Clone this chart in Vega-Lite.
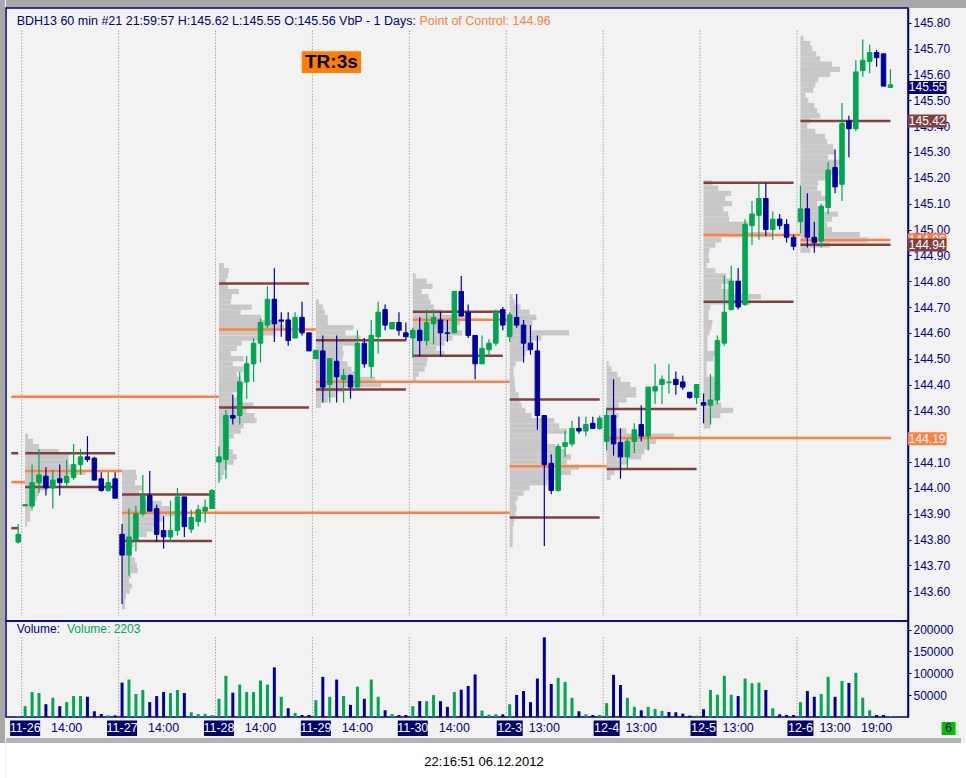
{
"$schema": "https://vega.github.io/schema/vega-lite/v6.json",
"background": "#f2f2f2",
"padding": 0,
"spacing": 0,
"config": {
"view": {"stroke": null},
"font": "Liberation Sans",
"axis": {"zindex": 0, "grid": false, "domainColor": "#000080", "domainWidth": 1.5, "tickColor": "#000080", "tickSize": 3, "labelColor": "#000080", "labelFont": "Liberation Sans", "labelFontSize": 12, "labelPadding": 2, "labelBound": false, "labelFlush": false, "labelOverlap": false}
},
"datasets": {
"seps": [{"sep":0.5},{"sep":14.5},{"sep":28.5},{"sep":42.5},{"sep":56.5},{"sep":70.5},{"sep":84.5},{"sep":98.5},{"sep":112.5}],
"bars": [
{"i":0,"o":143.79,"h":143.86,"l":143.785,"c":143.82,"v":2000},
{"i":1,"o":143.93,"h":143.937,"l":143.93,"c":143.935,"v":24700},
{"i":2,"o":143.93,"h":144.09,"l":143.92,"c":144.02,"v":57100},
{"i":3,"o":144.02,"h":144.15,"l":143.98,"c":144.05,"v":54800},
{"i":4,"o":144.045,"h":144.08,"l":143.97,"c":144.0,"v":29300},
{"i":5,"o":144.0,"h":144.07,"l":143.92,"c":144.03,"v":44000},
{"i":6,"o":144.035,"h":144.09,"l":143.97,"c":144.02,"v":24700},
{"i":7,"o":144.02,"h":144.11,"l":144.0,"c":144.045,"v":34000},
{"i":8,"o":144.04,"h":144.17,"l":144.03,"c":144.09,"v":47900},
{"i":9,"o":144.09,"h":144.15,"l":144.05,"c":144.12,"v":47900},
{"i":10,"o":144.12,"h":144.2,"l":144.1,"c":144.11,"v":46300},
{"i":11,"o":144.115,"h":144.12,"l":144.03,"c":144.03,"v":13100},
{"i":12,"o":144.035,"h":144.06,"l":143.985,"c":143.99,"v":6900},
{"i":13,"o":143.99,"h":144.06,"l":143.985,"c":144.02,"v":3900},
{"i":14,"o":144.035,"h":144.06,"l":143.96,"c":143.96,"v":3900},
{"i":15,"o":143.82,"h":143.86,"l":143.55,"c":143.74,"v":78700},
{"i":16,"o":143.74,"h":143.92,"l":143.66,"c":143.81,"v":85700},
{"i":17,"o":143.8,"h":143.93,"l":143.755,"c":143.9,"v":52500},
{"i":18,"o":143.9,"h":144.05,"l":143.89,"c":143.97,"v":61800},
{"i":19,"o":143.97,"h":144.065,"l":143.91,"c":143.91,"v":34000},
{"i":20,"o":143.92,"h":143.935,"l":143.79,"c":143.82,"v":47900},
{"i":21,"o":143.835,"h":143.89,"l":143.765,"c":143.81,"v":57100},
{"i":22,"o":143.81,"h":143.95,"l":143.79,"c":143.835,"v":54800},
{"i":23,"o":143.835,"h":144.0,"l":143.815,"c":143.965,"v":61800},
{"i":24,"o":143.965,"h":143.965,"l":143.81,"c":143.85,"v":54800},
{"i":25,"o":143.84,"h":143.915,"l":143.825,"c":143.885,"v":10800},
{"i":26,"o":143.87,"h":143.935,"l":143.85,"c":143.915,"v":6900},
{"i":27,"o":143.91,"h":143.955,"l":143.865,"c":143.925,"v":6900},
{"i":28,"o":143.92,"h":143.995,"l":143.92,"c":143.99,"v":4600},
{"i":29,"o":144.1,"h":144.16,"l":144.02,"c":144.12,"v":41700},
{"i":30,"o":144.11,"h":144.3,"l":144.035,"c":144.28,"v":94200},
{"i":31,"o":144.28,"h":144.36,"l":144.245,"c":144.27,"v":55600},
{"i":32,"o":144.28,"h":144.45,"l":144.245,"c":144.41,"v":74100},
{"i":33,"o":144.41,"h":144.51,"l":144.345,"c":144.48,"v":57100},
{"i":34,"o":144.48,"h":144.58,"l":144.41,"c":144.56,"v":57100},
{"i":35,"o":144.56,"h":144.655,"l":144.485,"c":144.64,"v":83400},
{"i":36,"o":144.63,"h":144.78,"l":144.62,"c":144.73,"v":74100},
{"i":37,"o":144.73,"h":144.85,"l":144.565,"c":144.635,"v":113500},
{"i":38,"o":144.65,"h":144.68,"l":144.585,"c":144.645,"v":46300},
{"i":39,"o":144.65,"h":144.68,"l":144.55,"c":144.57,"v":20000},
{"i":40,"o":144.58,"h":144.68,"l":144.58,"c":144.66,"v":9300},
{"i":41,"o":144.66,"h":144.72,"l":144.59,"c":144.6,"v":4600},
{"i":42,"o":144.6,"h":144.6,"l":144.53,"c":144.53,"v":4600},
{"i":43,"o":144.5,"h":144.535,"l":144.5,"c":144.532,"v":38600},
{"i":44,"o":144.53,"h":144.59,"l":144.33,"c":144.39,"v":91900},
{"i":45,"o":144.4,"h":144.5,"l":144.33,"c":144.5,"v":46300},
{"i":46,"o":144.49,"h":144.59,"l":144.33,"c":144.43,"v":85700},
{"i":47,"o":144.42,"h":144.46,"l":144.33,"c":144.435,"v":47900},
{"i":48,"o":144.435,"h":144.44,"l":144.345,"c":144.39,"v":27800},
{"i":49,"o":144.39,"h":144.61,"l":144.39,"c":144.56,"v":69500},
{"i":50,"o":144.56,"h":144.58,"l":144.465,"c":144.48,"v":41700},
{"i":51,"o":144.47,"h":144.65,"l":144.425,"c":144.59,"v":85700},
{"i":52,"o":144.585,"h":144.72,"l":144.52,"c":144.68,"v":46300},
{"i":53,"o":144.69,"h":144.71,"l":144.61,"c":144.63,"v":15400},
{"i":54,"o":144.615,"h":144.64,"l":144.615,"c":144.64,"v":6900},
{"i":55,"o":144.64,"h":144.68,"l":144.59,"c":144.61,"v":4600},
{"i":56,"o":144.6,"h":144.64,"l":144.57,"c":144.585,"v":4600},
{"i":57,"o":144.58,"h":144.62,"l":144.505,"c":144.61,"v":24700},
{"i":58,"o":144.61,"h":144.66,"l":144.51,"c":144.57,"v":36300},
{"i":59,"o":144.57,"h":144.69,"l":144.55,"c":144.64,"v":36300},
{"i":60,"o":144.635,"h":144.69,"l":144.555,"c":144.66,"v":50200},
{"i":61,"o":144.65,"h":144.68,"l":144.51,"c":144.6,"v":36300},
{"i":62,"o":144.6,"h":144.65,"l":144.565,"c":144.598,"v":23200},
{"i":63,"o":144.6,"h":144.76,"l":144.6,"c":144.76,"v":57100},
{"i":64,"o":144.76,"h":144.82,"l":144.665,"c":144.665,"v":62500},
{"i":65,"o":144.68,"h":144.71,"l":144.58,"c":144.59,"v":71000},
{"i":66,"o":144.59,"h":144.59,"l":144.42,"c":144.48,"v":97300},
{"i":67,"o":144.48,"h":144.59,"l":144.48,"c":144.54,"v":14700},
{"i":68,"o":144.535,"h":144.575,"l":144.51,"c":144.56,"v":5400},
{"i":69,"o":144.56,"h":144.69,"l":144.55,"c":144.68,"v":6200},
{"i":70,"o":144.69,"h":144.7,"l":144.61,"c":144.63,"v":6200},
{"i":71,"o":144.585,"h":144.68,"l":144.565,"c":144.67,"v":29300},
{"i":72,"o":144.66,"h":144.75,"l":144.62,"c":144.63,"v":50200},
{"i":73,"o":144.63,"h":144.65,"l":144.485,"c":144.56,"v":59400},
{"i":74,"o":144.56,"h":144.63,"l":144.515,"c":144.535,"v":34000},
{"i":75,"o":144.53,"h":144.59,"l":144.225,"c":144.28,"v":88000},
{"i":76,"o":144.28,"h":144.28,"l":143.775,"c":144.09,"v":182200},
{"i":77,"o":144.095,"h":144.13,"l":143.975,"c":143.99,"v":75700},
{"i":78,"o":143.99,"h":144.17,"l":143.985,"c":144.16,"v":89600},
{"i":79,"o":144.16,"h":144.22,"l":144.12,"c":144.175,"v":80300},
{"i":80,"o":144.17,"h":144.26,"l":144.16,"c":144.23,"v":44000},
{"i":81,"o":144.23,"h":144.275,"l":144.21,"c":144.22,"v":13100},
{"i":82,"o":144.22,"h":144.275,"l":144.2,"c":144.245,"v":6200},
{"i":83,"o":144.25,"h":144.275,"l":144.23,"c":144.23,"v":4600},
{"i":84,"o":144.23,"h":144.28,"l":144.225,"c":144.27,"v":4600},
{"i":85,"o":144.18,"h":144.31,"l":144.145,"c":144.28,"v":31700},
{"i":86,"o":144.28,"h":144.42,"l":144.125,"c":144.17,"v":96500},
{"i":87,"o":144.175,"h":144.23,"l":144.035,"c":144.12,"v":73300},
{"i":88,"o":144.12,"h":144.19,"l":144.075,"c":144.18,"v":44000},
{"i":89,"o":144.18,"h":144.25,"l":144.135,"c":144.225,"v":23200},
{"i":90,"o":144.245,"h":144.32,"l":144.18,"c":144.2,"v":15400},
{"i":91,"o":144.2,"h":144.39,"l":144.145,"c":144.39,"v":23200},
{"i":92,"o":144.375,"h":144.48,"l":144.325,"c":144.392,"v":18500},
{"i":93,"o":144.4,"h":144.435,"l":144.325,"c":144.42,"v":13900},
{"i":94,"o":144.407,"h":144.48,"l":144.365,"c":144.41,"v":11600},
{"i":95,"o":144.42,"h":144.45,"l":144.36,"c":144.4,"v":10800},
{"i":96,"o":144.41,"h":144.435,"l":144.38,"c":144.39,"v":7700},
{"i":97,"o":144.37,"h":144.37,"l":144.345,"c":144.35,"v":3100},
{"i":98,"o":144.35,"h":144.4,"l":144.325,"c":144.4,"v":3100},
{"i":99,"o":144.33,"h":144.365,"l":144.25,"c":144.32,"v":17800},
{"i":100,"o":144.32,"h":144.44,"l":144.245,"c":144.34,"v":61800},
{"i":101,"o":144.34,"h":144.59,"l":144.325,"c":144.57,"v":51000},
{"i":102,"o":144.56,"h":144.82,"l":144.55,"c":144.68,"v":94200},
{"i":103,"o":144.69,"h":144.86,"l":144.69,"c":144.8,"v":51000},
{"i":104,"o":144.8,"h":144.85,"l":144.69,"c":144.7,"v":47900},
{"i":105,"o":144.71,"h":145.04,"l":144.705,"c":145.02,"v":88000},
{"i":106,"o":145.015,"h":145.11,"l":144.94,"c":145.06,"v":77200},
{"i":107,"o":145.055,"h":145.18,"l":144.96,"c":145.12,"v":78700},
{"i":108,"o":145.12,"h":145.18,"l":144.975,"c":145.0,"v":61800},
{"i":109,"o":145.0,"h":145.07,"l":144.96,"c":145.04,"v":20000},
{"i":110,"o":145.04,"h":145.06,"l":145.0,"c":145.015,"v":6200},
{"i":111,"o":145.02,"h":145.04,"l":144.95,"c":144.97,"v":4600},
{"i":112,"o":144.97,"h":144.98,"l":144.92,"c":144.935,"v":4600},
{"i":113,"o":145.03,"h":145.17,"l":144.985,"c":145.08,"v":34000},
{"i":114,"o":145.08,"h":145.14,"l":144.93,"c":144.97,"v":59400},
{"i":115,"o":144.97,"h":145.03,"l":144.91,"c":144.95,"v":46300},
{"i":116,"o":144.955,"h":145.1,"l":144.93,"c":145.09,"v":52500},
{"i":117,"o":145.085,"h":145.26,"l":145.06,"c":145.23,"v":91900},
{"i":118,"o":145.24,"h":145.31,"l":145.14,"c":145.165,"v":46300},
{"i":119,"o":145.175,"h":145.49,"l":145.11,"c":145.41,"v":82600},
{"i":120,"o":145.42,"h":145.44,"l":145.28,"c":145.39,"v":78000},
{"i":121,"o":145.39,"h":145.655,"l":145.38,"c":145.61,"v":101100},
{"i":122,"o":145.615,"h":145.735,"l":145.59,"c":145.655,"v":44000},
{"i":123,"o":145.65,"h":145.715,"l":145.605,"c":145.685,"v":15400},
{"i":124,"o":145.685,"h":145.695,"l":145.63,"c":145.665,"v":4600},
{"i":125,"o":145.68,"h":145.68,"l":145.555,"c":145.555,"v":4600},
{"i":126,"o":145.55,"h":145.62,"l":145.55,"c":145.56,"v":2203}
],
"profile": [
{"s":1,"p":144.2,"w":3},{"s":1,"p":144.18,"w":8},{"s":1,"p":144.16,"w":14},{"s":1,"p":144.14,"w":34},{"s":1,"p":144.12,"w":44},{"s":1,"p":144.1,"w":44},{"s":1,"p":144.08,"w":46},{"s":1,"p":144.06,"w":61},{"s":1,"p":144.04,"w":42},{"s":1,"p":144.02,"w":31},{"s":1,"p":144.0,"w":23},{"s":1,"p":143.98,"w":14},{"s":1,"p":143.96,"w":12},{"s":1,"p":143.94,"w":9},{"s":1,"p":143.92,"w":8},{"s":1,"p":143.9,"w":5},{"s":1,"p":143.88,"w":5},{"s":1,"p":143.86,"w":2},
{"s":15,"p":144.06,"w":14},{"s":15,"p":144.04,"w":15},{"s":15,"p":144.02,"w":13},{"s":15,"p":144.0,"w":20},{"s":15,"p":143.98,"w":17},{"s":15,"p":143.96,"w":20},{"s":15,"p":143.94,"w":40},{"s":15,"p":143.92,"w":48},{"s":15,"p":143.9,"w":60},{"s":15,"p":143.88,"w":42},{"s":15,"p":143.86,"w":35},{"s":15,"p":143.84,"w":31},{"s":15,"p":143.82,"w":25},{"s":15,"p":143.8,"w":16},{"s":15,"p":143.78,"w":12},{"s":15,"p":143.76,"w":9},{"s":15,"p":143.74,"w":10},{"s":15,"p":143.72,"w":13},{"s":15,"p":143.7,"w":15},{"s":15,"p":143.68,"w":16},{"s":15,"p":143.66,"w":9},{"s":15,"p":143.64,"w":7},{"s":15,"p":143.62,"w":10},{"s":15,"p":143.6,"w":8},{"s":15,"p":143.58,"w":4},{"s":15,"p":143.56,"w":3},{"s":15,"p":143.54,"w":3},
{"s":29,"p":144.86,"w":5},{"s":29,"p":144.84,"w":10},{"s":29,"p":144.82,"w":9},{"s":29,"p":144.8,"w":7},{"s":29,"p":144.78,"w":9},{"s":29,"p":144.76,"w":20},{"s":29,"p":144.74,"w":13},{"s":29,"p":144.72,"w":12},{"s":29,"p":144.7,"w":33},{"s":29,"p":144.68,"w":22},{"s":29,"p":144.66,"w":43},{"s":29,"p":144.64,"w":62},{"s":29,"p":144.62,"w":66},{"s":29,"p":144.6,"w":58},{"s":29,"p":144.58,"w":44},{"s":29,"p":144.56,"w":23},{"s":29,"p":144.54,"w":18},{"s":29,"p":144.52,"w":12},{"s":29,"p":144.5,"w":25},{"s":29,"p":144.48,"w":14},{"s":29,"p":144.46,"w":25},{"s":29,"p":144.44,"w":18},{"s":29,"p":144.42,"w":22},{"s":29,"p":144.4,"w":25},{"s":29,"p":144.38,"w":24},{"s":29,"p":144.36,"w":14},{"s":29,"p":144.34,"w":18},{"s":29,"p":144.32,"w":35},{"s":29,"p":144.3,"w":28},{"s":29,"p":144.28,"w":36},{"s":29,"p":144.26,"w":38},{"s":29,"p":144.24,"w":25},{"s":29,"p":144.22,"w":22},{"s":29,"p":144.2,"w":15},{"s":29,"p":144.18,"w":10},{"s":29,"p":144.16,"w":10},{"s":29,"p":144.14,"w":14},{"s":29,"p":144.12,"w":18},{"s":29,"p":144.1,"w":15},{"s":29,"p":144.08,"w":8},{"s":29,"p":144.06,"w":5},{"s":29,"p":144.04,"w":3},
{"s":43,"p":144.72,"w":3},{"s":43,"p":144.7,"w":7},{"s":43,"p":144.68,"w":9},{"s":43,"p":144.66,"w":12},{"s":43,"p":144.64,"w":12},{"s":43,"p":144.62,"w":38},{"s":43,"p":144.6,"w":30},{"s":43,"p":144.58,"w":45},{"s":43,"p":144.56,"w":40},{"s":43,"p":144.54,"w":27},{"s":43,"p":144.52,"w":28},{"s":43,"p":144.5,"w":27},{"s":43,"p":144.48,"w":32},{"s":43,"p":144.46,"w":36},{"s":43,"p":144.44,"w":40},{"s":43,"p":144.42,"w":60},{"s":43,"p":144.4,"w":66},{"s":43,"p":144.38,"w":28},{"s":43,"p":144.36,"w":20},{"s":43,"p":144.34,"w":12},{"s":43,"p":144.32,"w":5},
{"s":57,"p":144.82,"w":3},{"s":57,"p":144.8,"w":14},{"s":57,"p":144.78,"w":20},{"s":57,"p":144.76,"w":9},{"s":57,"p":144.74,"w":16},{"s":57,"p":144.72,"w":18},{"s":57,"p":144.7,"w":21},{"s":57,"p":144.68,"w":30},{"s":57,"p":144.66,"w":55},{"s":57,"p":144.64,"w":48},{"s":57,"p":144.62,"w":42},{"s":57,"p":144.6,"w":50},{"s":57,"p":144.58,"w":40},{"s":57,"p":144.56,"w":32},{"s":57,"p":144.54,"w":24},{"s":57,"p":144.52,"w":32},{"s":57,"p":144.5,"w":15},{"s":57,"p":144.48,"w":14},{"s":57,"p":144.46,"w":12},{"s":57,"p":144.44,"w":6},{"s":57,"p":144.42,"w":3},
{"s":71,"p":144.74,"w":3},{"s":71,"p":144.72,"w":5},{"s":71,"p":144.7,"w":11},{"s":71,"p":144.68,"w":20},{"s":71,"p":144.66,"w":27},{"s":71,"p":144.64,"w":23},{"s":71,"p":144.62,"w":22},{"s":71,"p":144.6,"w":60},{"s":71,"p":144.58,"w":32},{"s":71,"p":144.56,"w":24},{"s":71,"p":144.54,"w":20},{"s":71,"p":144.52,"w":16},{"s":71,"p":144.5,"w":13},{"s":71,"p":144.48,"w":6},{"s":71,"p":144.46,"w":4},{"s":71,"p":144.44,"w":4},{"s":71,"p":144.42,"w":5},{"s":71,"p":144.4,"w":5},{"s":71,"p":144.38,"w":6},{"s":71,"p":144.36,"w":9},{"s":71,"p":144.34,"w":10},{"s":71,"p":144.32,"w":12},{"s":71,"p":144.3,"w":16},{"s":71,"p":144.28,"w":22},{"s":71,"p":144.26,"w":45},{"s":71,"p":144.24,"w":50},{"s":71,"p":144.22,"w":58},{"s":71,"p":144.2,"w":35},{"s":71,"p":144.18,"w":38},{"s":71,"p":144.16,"w":46},{"s":71,"p":144.14,"w":56},{"s":71,"p":144.12,"w":62},{"s":71,"p":144.1,"w":58},{"s":71,"p":144.08,"w":70},{"s":71,"p":144.06,"w":62},{"s":71,"p":144.04,"w":46},{"s":71,"p":144.02,"w":38},{"s":71,"p":144.0,"w":20},{"s":71,"p":143.98,"w":14},{"s":71,"p":143.96,"w":8},{"s":71,"p":143.94,"w":6},{"s":71,"p":143.92,"w":7},{"s":71,"p":143.9,"w":6},{"s":71,"p":143.88,"w":5},{"s":71,"p":143.86,"w":4},{"s":71,"p":143.84,"w":3},{"s":71,"p":143.82,"w":3},{"s":71,"p":143.8,"w":3},{"s":71,"p":143.78,"w":3},
{"s":85,"p":144.48,"w":2},{"s":85,"p":144.46,"w":5},{"s":85,"p":144.44,"w":11},{"s":85,"p":144.42,"w":14},{"s":85,"p":144.4,"w":24},{"s":85,"p":144.38,"w":30},{"s":85,"p":144.36,"w":30},{"s":85,"p":144.34,"w":20},{"s":85,"p":144.32,"w":12},{"s":85,"p":144.3,"w":9},{"s":85,"p":144.28,"w":12},{"s":85,"p":144.26,"w":7},{"s":85,"p":144.24,"w":5},{"s":85,"p":144.22,"w":20},{"s":85,"p":144.2,"w":68},{"s":85,"p":144.18,"w":50},{"s":85,"p":144.16,"w":44},{"s":85,"p":144.14,"w":38},{"s":85,"p":144.12,"w":35},{"s":85,"p":144.1,"w":22},{"s":85,"p":144.08,"w":15},{"s":85,"p":144.06,"w":8},{"s":85,"p":144.04,"w":4},
{"s":99,"p":145.18,"w":9},{"s":99,"p":145.16,"w":15},{"s":99,"p":145.14,"w":28},{"s":99,"p":145.12,"w":22},{"s":99,"p":145.1,"w":29},{"s":99,"p":145.08,"w":20},{"s":99,"p":145.06,"w":25},{"s":99,"p":145.04,"w":26},{"s":99,"p":145.02,"w":45},{"s":99,"p":145.0,"w":40},{"s":99,"p":144.98,"w":69},{"s":99,"p":144.96,"w":18},{"s":99,"p":144.94,"w":12},{"s":99,"p":144.92,"w":6},{"s":99,"p":144.9,"w":5},{"s":99,"p":144.88,"w":6},{"s":99,"p":144.86,"w":3},{"s":99,"p":144.84,"w":12},{"s":99,"p":144.82,"w":23},{"s":99,"p":144.8,"w":28},{"s":99,"p":144.78,"w":18},{"s":99,"p":144.76,"w":26},{"s":99,"p":144.74,"w":58},{"s":99,"p":144.72,"w":48},{"s":99,"p":144.7,"w":7},{"s":99,"p":144.68,"w":5},{"s":99,"p":144.66,"w":5},{"s":99,"p":144.64,"w":9},{"s":99,"p":144.62,"w":8},{"s":99,"p":144.6,"w":6},{"s":99,"p":144.58,"w":4},{"s":99,"p":144.56,"w":4},{"s":99,"p":144.54,"w":4},{"s":99,"p":144.52,"w":12},{"s":99,"p":144.5,"w":10},{"s":99,"p":144.48,"w":3},{"s":99,"p":144.46,"w":3},{"s":99,"p":144.44,"w":3},{"s":99,"p":144.42,"w":11},{"s":99,"p":144.4,"w":17},{"s":99,"p":144.38,"w":17},{"s":99,"p":144.36,"w":13},{"s":99,"p":144.34,"w":13},{"s":99,"p":144.32,"w":18},{"s":99,"p":144.3,"w":30},{"s":99,"p":144.28,"w":17},{"s":99,"p":144.26,"w":8},{"s":99,"p":144.24,"w":7},
{"s":113,"p":145.74,"w":3},{"s":113,"p":145.72,"w":10},{"s":113,"p":145.7,"w":12},{"s":113,"p":145.68,"w":16},{"s":113,"p":145.66,"w":20},{"s":113,"p":145.64,"w":32},{"s":113,"p":145.62,"w":40},{"s":113,"p":145.6,"w":30},{"s":113,"p":145.58,"w":18},{"s":113,"p":145.56,"w":15},{"s":113,"p":145.54,"w":13},{"s":113,"p":145.52,"w":5},{"s":113,"p":145.5,"w":8},{"s":113,"p":145.48,"w":14},{"s":113,"p":145.46,"w":17},{"s":113,"p":145.44,"w":20},{"s":113,"p":145.42,"w":10},{"s":113,"p":145.4,"w":7},{"s":113,"p":145.38,"w":15},{"s":113,"p":145.36,"w":25},{"s":113,"p":145.34,"w":27},{"s":113,"p":145.32,"w":33},{"s":113,"p":145.3,"w":35},{"s":113,"p":145.28,"w":28},{"s":113,"p":145.26,"w":42},{"s":113,"p":145.24,"w":38},{"s":113,"p":145.22,"w":45},{"s":113,"p":145.2,"w":27},{"s":113,"p":145.18,"w":18},{"s":113,"p":145.16,"w":17},{"s":113,"p":145.14,"w":21},{"s":113,"p":145.12,"w":28},{"s":113,"p":145.1,"w":17},{"s":113,"p":145.08,"w":20},{"s":113,"p":145.06,"w":38},{"s":113,"p":145.04,"w":32},{"s":113,"p":145.02,"w":27},{"s":113,"p":145.0,"w":32},{"s":113,"p":144.98,"w":60},{"s":113,"p":144.96,"w":68},{"s":113,"p":144.94,"w":30},{"s":113,"p":144.92,"w":10}
],
"levels": [
{"from":-1.0,"to":29,"p":144.353,"k":"poc"},
{"from":-1.0,"to":1,"p":144.022,"k":"poc"},
{"from":-1.0,"to":0,"p":144.134,"k":"va"},
{"from":-1.0,"to":0,"p":143.844,"k":"va"},
{"from":1,"to":14,"p":144.134,"k":"va"},
{"from":1,"to":14,"p":144.003,"k":"va"},
{"from":1,"to":15,"p":144.065,"k":"poc"},
{"from":15,"to":28,"p":143.974,"k":"va"},
{"from":15,"to":28,"p":143.794,"k":"va"},
{"from":15,"to":71,"p":143.904,"k":"poc"},
{"from":29,"to":42,"p":144.791,"k":"va"},
{"from":29,"to":43,"p":144.613,"k":"poc"},
{"from":29,"to":42,"p":144.311,"k":"va"},
{"from":43,"to":56,"p":144.571,"k":"va"},
{"from":43,"to":71,"p":144.411,"k":"poc"},
{"from":43,"to":56,"p":144.381,"k":"va"},
{"from":57,"to":70,"p":144.682,"k":"va"},
{"from":57,"to":71,"p":144.651,"k":"poc"},
{"from":57,"to":70,"p":144.511,"k":"va"},
{"from":71,"to":84,"p":144.342,"k":"va"},
{"from":71,"to":85,"p":144.084,"k":"poc"},
{"from":71,"to":84,"p":143.885,"k":"va"},
{"from":85,"to":98,"p":144.305,"k":"va"},
{"from":85,"to":126.1,"p":144.193,"k":"poc"},
{"from":85,"to":98,"p":144.073,"k":"va"},
{"from":99,"to":112,"p":145.181,"k":"va"},
{"from":99,"to":113,"p":144.979,"k":"poc"},
{"from":99,"to":112,"p":144.72,"k":"va"},
{"from":113,"to":126,"p":145.42,"k":"va"},
{"from":113,"to":126,"p":144.959,"k":"poc"},
{"from":113,"to":126,"p":144.941,"k":"va"}
],
"marks": [
{"p":144.96,"t":"144.96","k":"poc"},
{"p":144.19,"t":"144.19","k":"poc"},
{"p":144.94,"t":"144.94","k":"va"},
{"p":145.42,"t":"145.42","k":"va"},
{"p":145.55,"t":"145.55","k":"last"}
],
"ticks": [
{"i":1,"t":"11-26","k":"date"},{"i":7,"t":"14:00","k":"time"},{"i":15,"t":"11-27","k":"date"},{"i":21,"t":"14:00","k":"time"},{"i":29,"t":"11-28","k":"date"},{"i":35,"t":"14:00","k":"time"},{"i":43,"t":"11-29","k":"date"},{"i":49,"t":"14:00","k":"time"},{"i":57,"t":"11-30","k":"date"},{"i":63,"t":"14:00","k":"time"},{"i":71,"t":"12-3","k":"date"},{"i":76,"t":"13:00","k":"time"},{"i":85,"t":"12-4","k":"date"},{"i":90,"t":"13:00","k":"time"},{"i":99,"t":"12-5","k":"date"},{"i":104,"t":"13:00","k":"time"},{"i":113,"t":"12-6","k":"date"},{"i":118,"t":"13:00","k":"time"},{"i":124,"t":"19:00","k":"time"}
]
},
"hconcat": [
{
"spacing": 0,
"bounds": "flush",
"vconcat": [
{"width": 5, "height": 743, "view": {"fill": "#a8a8a8", "stroke": null}, "data": {"values": []}, "mark": "point"},
{"width": 5, "height": 35, "view": {"fill": "white", "stroke": null}, "data": {"values": []}, "mark": "point"}
]
},
{
"spacing": 0,
"bounds": "flush",
"vconcat": [
{"width": 961, "height": 8, "view": {"fill": "#a8a8a8", "stroke": null}, "data": {"values": []}, "mark": "point"},
{
"width": 902, "height": 613,
"view": {"stroke": "#000080", "strokeWidth": 1.5},
"layer": [
{
"data": {"name": "seps"},
"mark": {"type": "rule", "color": "#808080", "strokeDash": [1, 2], "strokeWidth": 1},
"encoding": {
"x": {"field": "sep", "type": "quantitative", "scale": {"domain": [-1.043, 127.814], "nice": false, "zero": false}, "axis": null},
"y": {"datum": 145.77, "type": "quantitative", "scale": {"domain": [143.504, 145.838], "nice": false, "zero": false}, "axis": {"orient": "right", "values": [143.6, 143.7, 143.8, 143.9, 144.0, 144.1, 144.3, 144.4, 144.5, 144.6, 144.7, 144.8, 144.9, 145.0, 145.1, 145.2, 145.3, 145.4, 145.5, 145.6, 145.7, 145.8], "format": ".2f", "title": null}},
"y2": {"datum": 143.504}
}
},
{
"data": {"name": "profile"},
"transform": [{"calculate": "datum.s + datum.w / 7", "as": "e"}],
"mark": {"type": "bar", "orient": "horizontal", "color": "#c8c8c8"},
"encoding": {
"x": {"field": "s", "type": "quantitative", "scale": {"domain": [-1.043, 127.814], "nice": false, "zero": false}, "axis": null},
"x2": {"field": "e"},
"y": {"field": "p", "type": "quantitative", "scale": {"domain": [143.504, 145.838], "nice": false, "zero": false}, "axis": {"orient": "right", "values": [143.6, 143.7, 143.8, 143.9, 144.0, 144.1, 144.3, 144.4, 144.5, 144.6, 144.7, 144.8, 144.9, 145.0, 145.1, 145.2, 145.3, 145.4, 145.5, 145.6, 145.7, 145.8], "format": ".2f", "title": null}},
"size": {"value": 5.25}
}
},
{
"data": {"name": "levels"},
"mark": {"type": "rule", "strokeWidth": 2.5},
"encoding": {
"x": {"field": "from", "type": "quantitative", "axis": null},
"x2": {"field": "to"},
"y": {"field": "p", "type": "quantitative", "axis": {"orient": "right", "values": [143.6, 143.7, 143.8, 143.9, 144.0, 144.1, 144.3, 144.4, 144.5, 144.6, 144.7, 144.8, 144.9, 145.0, 145.1, 145.2, 145.3, 145.4, 145.5, 145.6, 145.7, 145.8], "format": ".2f", "title": null}},
"color": {"field": "k", "type": "nominal", "scale": {"domain": ["up", "down", "poc", "va"], "range": ["#00a651", "#0000a0", "#ff8040", "#804040"]}, "legend": null}
}
},
{
"data": {"name": "bars"},
"transform": [{"calculate": "datum.c >= datum.o ? 'up' : 'down'", "as": "dir"}],
"mark": {"type": "rule", "strokeWidth": 1.2},
"encoding": {
"x": {"field": "i", "type": "quantitative", "axis": null},
"y": {"field": "l", "type": "quantitative", "axis": {"orient": "right", "values": [143.6, 143.7, 143.8, 143.9, 144.0, 144.1, 144.3, 144.4, 144.5, 144.6, 144.7, 144.8, 144.9, 145.0, 145.1, 145.2, 145.3, 145.4, 145.5, 145.6, 145.7, 145.8], "format": ".2f", "title": null}},
"y2": {"field": "h"},
"color": {"field": "dir", "type": "nominal", "scale": {"domain": ["up", "down", "poc", "va"], "range": ["#00a651", "#0000a0", "#ff8040", "#804040"]}, "legend": null}
}
},
{
"data": {"name": "bars"},
"transform": [{"calculate": "datum.c >= datum.o ? 'up' : 'down'", "as": "dir"}],
"mark": {"type": "bar", "orient": "vertical", "strokeWidth": 1},
"encoding": {
"x": {"field": "i", "type": "quantitative", "axis": null},
"y": {"field": "o", "type": "quantitative", "axis": {"orient": "right", "values": [143.6, 143.7, 143.8, 143.9, 144.0, 144.1, 144.3, 144.4, 144.5, 144.6, 144.7, 144.8, 144.9, 145.0, 145.1, 145.2, 145.3, 145.4, 145.5, 145.6, 145.7, 145.8], "format": ".2f", "title": null}},
"y2": {"field": "c"},
"size": {"value": 4.5},
"color": {"field": "dir", "type": "nominal", "scale": {"domain": ["up", "down", "poc", "va"], "range": ["#00a651", "#0000a0", "#ff8040", "#804040"]}, "legend": null},
"stroke": {"field": "dir", "type": "nominal", "scale": {"domain": ["up", "down"], "range": ["#00a651", "#0000a0"]}, "legend": null}
}
},
{
"data": {"name": "marks"},
"transform": [{"filter": "datum.k == 'poc'"}],
"mark": {"type": "bar", "orient": "horizontal"},
"encoding": {
"y": {"field": "p", "type": "quantitative", "axis": {"orient": "right", "values": [143.6, 143.7, 143.8, 143.9, 144.0, 144.1, 144.3, 144.4, 144.5, 144.6, 144.7, 144.8, 144.9, 145.0, 145.1, 145.2, 145.3, 145.4, 145.5, 145.6, 145.7, 145.8], "format": ".2f", "title": null}},
"x": {"datum": 128.5, "type": "quantitative", "axis": null},
"x2": {"datum": 134.1},
"size": {"value": 13},
"fill": {"field": "k", "type": "nominal", "scale": {"domain": ["last", "va", "poc"], "range": ["#000080", "#804040", "#ff8040"]}, "legend": null}
}
},
{
"data": {"name": "marks"},
"transform": [{"filter": "datum.k == 'poc'"}],
"mark": {"type": "text", "color": "white", "fontSize": 12, "align": "center", "baseline": "middle"},
"encoding": {
"x": {"datum": 131.3, "type": "quantitative", "axis": null},
"y": {"field": "p", "type": "quantitative", "axis": {"orient": "right", "values": [143.6, 143.7, 143.8, 143.9, 144.0, 144.1, 144.3, 144.4, 144.5, 144.6, 144.7, 144.8, 144.9, 145.0, 145.1, 145.2, 145.3, 145.4, 145.5, 145.6, 145.7, 145.8], "format": ".2f", "title": null}},
"text": {"field": "t"}
}
},
{
"data": {"name": "marks"},
"transform": [{"filter": "datum.k != 'poc'"}],
"mark": {"type": "bar", "orient": "horizontal"},
"encoding": {
"y": {"field": "p", "type": "quantitative", "axis": {"orient": "right", "values": [143.6, 143.7, 143.8, 143.9, 144.0, 144.1, 144.3, 144.4, 144.5, 144.6, 144.7, 144.8, 144.9, 145.0, 145.1, 145.2, 145.3, 145.4, 145.5, 145.6, 145.7, 145.8], "format": ".2f", "title": null}},
"x": {"datum": 128.5, "type": "quantitative", "axis": null},
"x2": {"datum": 134.1},
"size": {"value": 13},
"fill": {"field": "k", "type": "nominal", "scale": {"domain": ["last", "va", "poc"], "range": ["#000080", "#804040", "#ff8040"]}, "legend": null}
}
},
{
"data": {"name": "marks"},
"transform": [{"filter": "datum.k != 'poc'"}],
"mark": {"type": "text", "color": "white", "fontSize": 12, "align": "center", "baseline": "middle"},
"encoding": {
"x": {"datum": 131.3, "type": "quantitative", "axis": null},
"y": {"field": "p", "type": "quantitative", "axis": {"orient": "right", "values": [143.6, 143.7, 143.8, 143.9, 144.0, 144.1, 144.3, 144.4, 144.5, 144.6, 144.7, 144.8, 144.9, 145.0, 145.1, 145.2, 145.3, 145.4, 145.5, 145.6, 145.7, 145.8], "format": ".2f", "title": null}},
"text": {"field": "t"}
}
},
{
"data": {"values": [{}]},
"mark": {"type": "rect", "fill": "#ff8000"},
"encoding": {
"x": {"datum": 40.96, "type": "quantitative", "axis": null},
"x2": {"datum": 49.53},
"y": {"datum": 145.69, "type": "quantitative", "axis": {"orient": "right", "values": [143.6, 143.7, 143.8, 143.9, 144.0, 144.1, 144.3, 144.4, 144.5, 144.6, 144.7, 144.8, 144.9, 145.0, 145.1, 145.2, 145.3, 145.4, 145.5, 145.6, 145.7, 145.8], "format": ".2f", "title": null}},
"y2": {"datum": 145.606}
}
},
{
"data": {"values": [{}]},
"mark": {"type": "text", "text": "TR:3s", "fontSize": 19, "fontWeight": "bold", "color": "black", "align": "center", "baseline": "middle"},
"encoding": {
"x": {"datum": 45.24, "type": "quantitative", "axis": null},
"y": {"datum": 145.648, "type": "quantitative", "axis": {"orient": "right", "values": [143.6, 143.7, 143.8, 143.9, 144.0, 144.1, 144.3, 144.4, 144.5, 144.6, 144.7, 144.8, 144.9, 145.0, 145.1, 145.2, 145.3, 145.4, 145.5, 145.6, 145.7, 145.8], "format": ".2f", "title": null}}
}
},
{
"data": {"values": [{}]},
"mark": {"type": "text", "text": "BDH13  60 min  #21 21:59:57 H:145.62 L:145.55 O:145.56  VbP - 1 Days:", "fontSize": 12.5, "color": "#000080", "align": "left", "baseline": "middle"},
"encoding": {
"x": {"datum": -0.23, "type": "quantitative", "axis": null},
"y": {"datum": 145.808, "type": "quantitative", "axis": {"orient": "right", "values": [143.6, 143.7, 143.8, 143.9, 144.0, 144.1, 144.3, 144.4, 144.5, 144.6, 144.7, 144.8, 144.9, 145.0, 145.1, 145.2, 145.3, 145.4, 145.5, 145.6, 145.7, 145.8], "format": ".2f", "title": null}}
}
},
{
"data": {"values": [{}]},
"mark": {"type": "text", "text": "Point of Control: 144.96", "fontSize": 12.5, "color": "#ff8040", "align": "left", "baseline": "middle"},
"encoding": {
"x": {"datum": 57.96, "type": "quantitative", "axis": null},
"y": {"datum": 145.808, "type": "quantitative", "axis": {"orient": "right", "values": [143.6, 143.7, 143.8, 143.9, 144.0, 144.1, 144.3, 144.4, 144.5, 144.6, 144.7, 144.8, 144.9, 145.0, 145.1, 145.2, 145.3, 145.4, 145.5, 145.6, 145.7, 145.8], "format": ".2f", "title": null}}
}
}
]
},
{
"width": 902, "height": 96,
"view": {"stroke": "#000080", "strokeWidth": 1.5},
"layer": [
{
"data": {"name": "seps"},
"mark": {"type": "rule", "color": "#808080", "strokeDash": [1, 2], "strokeWidth": 1},
"encoding": {
"x": {"field": "sep", "type": "quantitative", "scale": {"domain": [-1.043, 127.814], "nice": false, "zero": false}, "axis": null},
"y": {"datum": 182400, "type": "quantitative", "scale": {"domain": [0, 219700], "nice": false, "zero": false}, "axis": {"orient": "right", "values": [50000, 100000, 150000, 200000], "format": "d", "title": null}},
"y2": {"datum": 0}
}
},
{
"data": {"name": "bars"},
"transform": [
{"window": [{"op": "lag", "field": "c", "as": "pc"}], "sort": [{"field": "i"}]},
{"calculate": "datum.pc == null || datum.c >= datum.pc ? 'up' : 'down'", "as": "dir"}
],
"mark": {"type": "bar", "orient": "vertical"},
"encoding": {
"x": {"field": "i", "type": "quantitative", "scale": {"domain": [-1.043, 127.814], "nice": false, "zero": false}, "axis": null},
"y": {"field": "v", "type": "quantitative", "scale": {"domain": [0, 219700], "nice": false, "zero": false}, "axis": {"orient": "right", "values": [50000, 100000, 150000, 200000], "format": "d", "title": null}},
"size": {"value": 3},
"color": {"field": "dir", "type": "nominal", "scale": {"domain": ["up", "down", "poc", "va"], "range": ["#00a651", "#0000a0", "#ff8040", "#804040"]}, "legend": null}
}
},
{
"data": {"values": [{}]},
"mark": {"type": "text", "text": "Volume:", "fontSize": 12, "color": "#000080", "align": "left", "baseline": "middle"},
"encoding": {
"x": {"datum": -0.23, "type": "quantitative", "axis": null},
"y": {"datum": 200700, "type": "quantitative", "axis": {"orient": "right", "values": [50000, 100000, 150000, 200000], "format": "d", "title": null}}
}
},
{
"data": {"values": [{}]},
"mark": {"type": "text", "text": "Volume: 2203", "fontSize": 12, "color": "#00a651", "align": "left", "baseline": "middle"},
"encoding": {
"x": {"datum": 7.04, "type": "quantitative", "axis": null},
"y": {"datum": 200700, "type": "quantitative", "axis": {"orient": "right", "values": [50000, 100000, 150000, 200000], "format": "d", "title": null}}
}
}
]
},
{
"width": 902, "height": 21,
"data": {"name": "ticks"},
"layer": [
{
"transform": [{"filter": "datum.k == 'date'"}],
"mark": {"type": "bar", "orient": "vertical", "color": "#00006e"},
"encoding": {
"x": {"field": "i", "type": "quantitative", "scale": {"domain": [-1.043, 127.814], "nice": false, "zero": false}, "axis": null},
"y": {"datum": 2, "type": "quantitative", "scale": {"domain": [0, 21], "nice": false, "zero": false}, "axis": null},
"y2": {"datum": 17.5},
"size": {"condition": {"test": "length(datum.t) > 4", "value": 30}, "value": 26}
}
},
{
"transform": [{"filter": "datum.k == 'date'"}],
"mark": {"type": "text", "color": "white", "fontSize": 12.5, "align": "center", "baseline": "middle"},
"encoding": {
"x": {"field": "i", "type": "quantitative", "axis": null},
"y": {"datum": 9.7, "type": "quantitative", "axis": null},
"text": {"field": "t"}
}
},
{
"transform": [{"filter": "datum.k == 'time'"}],
"mark": {"type": "text", "color": "#000080", "fontSize": 12.5, "align": "center", "baseline": "middle"},
"encoding": {
"x": {"field": "i", "type": "quantitative", "axis": null},
"y": {"datum": 9.7, "type": "quantitative", "axis": null},
"text": {"field": "t"}
}
},
{
"data": {"values": [{}]},
"mark": {"type": "bar", "orient": "vertical", "color": "#00c000"},
"encoding": {
"x": {"datum": 134.4, "type": "quantitative", "axis": null},
"y": {"datum": 3, "type": "quantitative", "axis": null},
"y2": {"datum": 16},
"size": {"value": 14}
}
},
{
"data": {"values": [{}]},
"mark": {"type": "text", "text": "6", "color": "#000080", "fontSize": 12.5, "align": "center", "baseline": "middle"},
"encoding": {
"x": {"datum": 134.4, "type": "quantitative", "axis": null},
"y": {"datum": 9.7, "type": "quantitative", "axis": null}
}
}
]
},
{"width": 955, "height": 5, "view": {"fill": "#b4b4b4", "stroke": null}, "data": {"values": []}, "mark": "point"},
{
"width": 961, "height": 35,
"view": {"fill": "white", "stroke": null},
"data": {"values": [{"t": "22:16:51 06.12.2012"}]},
"mark": {"type": "text", "fontSize": 13, "color": "black", "dy": 1, "dx": -2.5},
"encoding": {"text": {"field": "t"}}
}
]
}
]
}
